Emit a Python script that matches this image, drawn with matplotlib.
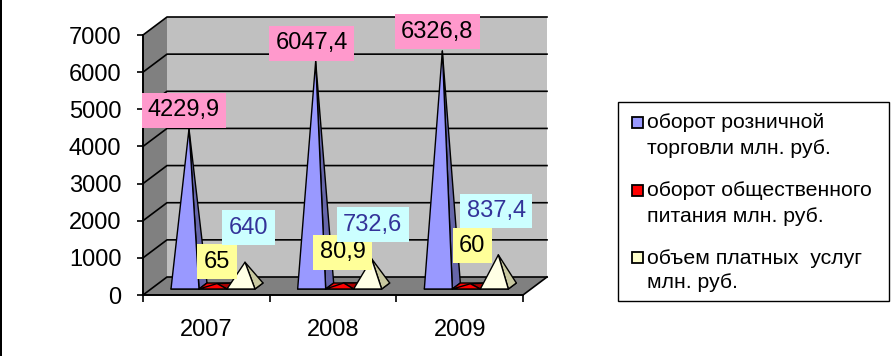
import matplotlib
matplotlib.use("Agg")
import matplotlib.pyplot as plt
from matplotlib.patches import Polygon, Rectangle

plt.rcParams['font.family'] = ['Liberation Sans', 'DejaVu Sans']

# ---- data ----
years = ["2007", "2008", "2009"]
retail = [4229.9, 6047.4, 6326.8]
catering = [65, 80.9, 60]
services = [640, 732.6, 837.4]
retail_labels = ["4229,9", "6047,4", "6326,8"]
catering_labels = ["65", "80,9", "60"]
services_labels = ["640", "732,6", "837,4"]
yticks = [0, 1000, 2000, 3000, 4000, 5000, 6000, 7000]
legend_lines = [
    ["оборот розничной", "торговли млн. руб."],
    ["оборот общественного", "питания млн. руб."],
    ["объем платных  услуг", "млн. руб."],
]

# ---- layout (pixels) ----
W, H = 891, 356
LEFT, RIGHT, TOP, BOTTOM = 143, 523, 35, 295
DX, DY = 24, 18   # depth of the fake 3d box
YMAX = 7000
GAP = 20 / 126.67
BAR = 28 / 126.67

fig = plt.figure(figsize=(W / 100, H / 100), dpi=100)
ax = fig.add_axes([LEFT / W, 1 - BOTTOM / H, (RIGHT - LEFT) / W, (BOTTOM - TOP) / H])
ax.set_xlim(0, 3)
ax.set_ylim(0, YMAX)
ax.patch.set_visible(False)

sx = 3 / (RIGHT - LEFT)
sy = YMAX / (BOTTOM - TOP)


def proj(x, v, d):
    # d is depth 0..1 from the front plane to the back wall
    return (x + d * DX * sx, v + d * DY * sy)


def poly(pts, color, z, lw=1.0):
    ax.add_patch(Polygon(pts, closed=True, facecolor=color, edgecolor='black',
                         linewidth=lw, zorder=z, clip_on=False, joinstyle='round'))


# walls and floor
poly([proj(0, 0, 1), proj(3, 0, 1), proj(3, YMAX, 1), proj(0, YMAX, 1)], '#C0C0C0', 1, 0)
poly([proj(0, 0, 0), proj(0, 0, 1), proj(0, YMAX, 1), proj(0, YMAX, 0)], '#808080', 1, 0)
poly([proj(0, 0, 0), proj(3, 0, 0), proj(3, 0, 1), proj(0, 0, 1)], '#808080', 2, 0)
for v in yticks:
    ax.plot(*zip(proj(0, v, 0), proj(0, v, 1), proj(3, v, 1)), color='black', lw=1.2,
            zorder=2, clip_on=False)
ax.plot(*zip(proj(3, 0, 0), proj(3, 0, 1)), color='black', lw=1.2, zorder=2, clip_on=False)


def pyramid(x0, value, front, side, z):
    x1 = x0 + BAR
    xm = x0 + BAR / 2
    # base first, it only shows on the very flat pyramids
    poly([proj(x0, 0, 1 / 3), proj(x1, 0, 1 / 3), proj(x1, 0, 2 / 3), proj(x0, 0, 2 / 3)], front, z)
    poly([proj(x1, 0, 1 / 3), proj(x1, 0, 2 / 3), proj(xm, value, 0.5)], side, z + 0.05)
    poly([proj(x0, 0, 1 / 3), proj(x1, 0, 1 / 3), proj(xm, value, 0.5)], front, z + 0.1)
    return proj(xm, value, 0.5)


def tag(apex, text, off, bg, fg='black'):
    ax.annotate(text, xy=apex, xytext=off, textcoords='offset pixels', ha='center', va='center',
                fontsize=17, color=fg, zorder=20, annotation_clip=False,
                bbox=dict(boxstyle='square,pad=0.27', facecolor=bg, edgecolor='none'))


# label offsets from each apex, in pixels
retail_off = [(-5, 18.5), (-4, 18), (-5, 19.5)]
catering_off = [(0, 22), (-1, 30.5), (2, 38)]
services_off = [(3.5, 34.5), (1, 34), (-2, 44)]

for i in range(len(years)):
    x0 = i + GAP
    a = pyramid(x0, retail[i], '#9999FF', '#6666AA', 5 + i)
    b = pyramid(x0 + BAR, catering[i], '#FF0000', '#AA0000', 5 + i + 0.3)
    c = pyramid(x0 + 2 * BAR, services[i], '#FFFFE5', '#C8C8A0', 5 + i + 0.6)
    tag(a, retail_labels[i], retail_off[i], '#FF99CC')
    tag(b, catering_labels[i], catering_off[i], '#FFFF99')
    tag(c, services_labels[i], services_off[i], '#CCFFFF', '#333399')

# axes
for s in ['top', 'right']:
    ax.spines[s].set_visible(False)
for s in ['left', 'bottom']:
    ax.spines[s].set_linewidth(1.4)
    ax.spines[s].set_zorder(3)
ax.set_yticks(yticks)
ax.set_yticklabels([str(v) for v in yticks], fontsize=17)
ax.set_xticks(range(4))
ax.set_xticklabels([])
ax.set_xticks([i + 0.5 for i in range(len(years))], minor=True)
ax.set_xticklabels(years, minor=True, fontsize=17)
ax.tick_params(axis='y', length=4.5, width=1.2, pad=11)
ax.tick_params(axis='x', which='major', length=5, width=1.2)
ax.tick_params(axis='x', which='minor', length=0, pad=17)


# legend, drawn by hand because of its two line entries
def fx(px):
    return px / W


def fy(py):
    return 1 - py / H


fig.add_artist(Rectangle((fx(618), fy(301)), 271 / W, 199 / H, transform=fig.transFigure,
                         facecolor='white', edgecolor='black', linewidth=1.0))
swatches = ['#9999FF', '#FF0000', '#FFFFCC']
rows = [(123, 149), (191, 216), (258, 283)]
for lines, (y1, y2), col in zip(legend_lines, rows, swatches):
    fig.add_artist(Rectangle((fx(632), fy(y1 + 5)), 11 / W, 11 / H, transform=fig.transFigure,
                             facecolor=col, edgecolor='black', linewidth=1.3))
    fig.text(fx(647), fy(y1), lines[0], fontsize=15.3, va='center', ha='left')
    fig.text(fx(647), fy(y2), lines[1], fontsize=15.3, va='center', ha='left')

# black edge of the slide on the left
fig.add_artist(Rectangle((0, 0), 1.5 / W, 1, transform=fig.transFigure, facecolor='black', edgecolor='none'))

fig.savefig("out.png", dpi=100, facecolor='white')
